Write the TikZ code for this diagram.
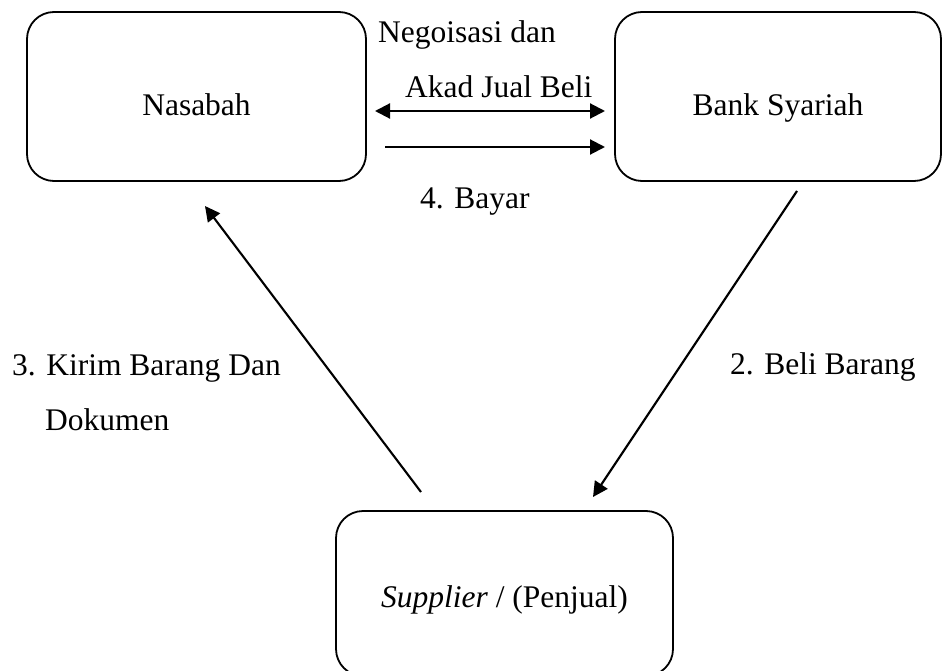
\documentclass[tikz,border=0pt]{standalone}
\usepackage{fontspec}
\setmainfont{Liberation Serif}
\usetikzlibrary{arrows.meta}
\begin{document}
\begin{tikzpicture}[x=1pt,y=-1pt,
  every node/.style={font=\fontsize{31.5}{37}\selectfont},
  partybox/.style={draw, line width=1.8pt, rounded corners=27pt, fill=white, inner sep=0pt, text depth=0pt},
  lbl/.style={anchor=base west, inner sep=0pt},
  tip/.tip={Triangle[length=15pt,width=15pt]},
  conn/.style={line width=2.1pt, -tip},
  conn2/.style={line width=2.1pt, tip-tip}]
\path[use as bounding box, clip] (0,0) rectangle (942,671);
% labels
\node[lbl] (neg) at (378,43) {Negoisasi dan};
\node[lbl] (akad) at (405,98) {Akad Jual Beli};
\node[lbl] (bayar) at (420,208) {4. Bayar};
\node[lbl] (kirim) at (12,375) {3. Kirim Barang Dan};
\node[lbl] (dok) at (45,430) {Dokumen};
\node[lbl] (beli) at (730,374) {2. Beli Barang};
% boxes
\node[partybox, minimum width=339pt, minimum height=169pt, text height=39pt] (nas) at (196.5,96.5) {Nasabah};
\node[partybox, minimum width=326pt, minimum height=169pt, text height=39pt] (bank) at (778,96.5) {Bank Syariah};
\node[partybox, minimum width=337pt, minimum height=165pt, text height=27pt] (sup) at (504.5,593.5) {\textit{Supplier} / (Penjual)};
% connector ends
\coordinate (a1) at (375,111);
\coordinate (a2) at (605,111);
\coordinate (b1) at (385,147);
\coordinate (b2) at (605,147);
\coordinate (c1) at (421,492);
\coordinate (c2) at (205,206);
\coordinate (d1) at (797,191);
\coordinate (d2) at (593,497);
\draw[conn2] (a1) -- (a2);
\draw[conn] (b1) -- (b2);
\draw[conn] (c1) -- (c2);
\draw[conn] (d1) -- (d2);
\end{tikzpicture}
\end{document}
